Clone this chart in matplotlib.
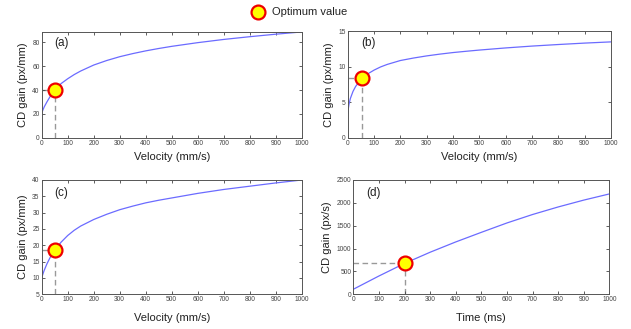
import matplotlib
matplotlib.use("Agg")
import matplotlib.pyplot as plt
from matplotlib.lines import Line2D

plt.rcParams['font.family'] = ['Liberation Sans', 'DejaVu Sans']

# ---- data ----
xa = [0, 5, 10, 20, 30, 40, 50, 75, 100, 125, 150, 200, 250, 300, 350, 400, 450, 500,
      600, 700, 800, 900, 1000]
ya = [20.5, 23.5, 26, 30, 33.7, 37, 40, 45.5, 49.5, 53, 56, 61, 64.8, 68, 70.6, 72.9,
      74.9, 76.7, 79.8, 82.5, 84.8, 86.9, 88.8]
opt_a = (50, 40)

xb = [0, 2, 5, 10, 20, 30, 40, 55, 75, 100, 125, 150, 200, 250, 300, 350, 400, 450, 500,
      600, 700, 800, 900, 1000]
yb = [3.4, 4.0, 4.7, 5.5, 6.5, 7.2, 7.7, 8.35, 8.95, 9.5, 9.95, 10.3, 10.85, 11.2, 11.5,
      11.75, 11.97, 12.15, 12.32, 12.62, 12.88, 13.1, 13.3, 13.47]
opt_b = (55, 8.35)

xc = [0, 5, 10, 20, 30, 40, 50, 75, 100, 125, 150, 200, 250, 300, 350, 400, 450, 500,
      600, 700, 800, 900, 1000]
yc = [10, 11.3, 12.4, 14.3, 15.9, 17.3, 18.5, 21.0, 23.0, 24.6, 25.9, 27.9, 29.5, 30.9,
      32.0, 33.0, 33.8, 34.5, 35.9, 37.1, 38.1, 39.1, 40.0]
opt_c = (50, 18.5)

xd = [0, 100, 200, 300, 400, 500, 600, 700, 800, 900, 1000]
yd = [110, 400, 675, 920, 1145, 1355, 1560, 1745, 1910, 2060, 2195]
opt_d = (200, 675)

panels = [
    dict(x=xa, y=ya, opt=opt_a, lab='(a)', xl='Velocity (mm/s)', yl='CD gain (px/mm)',
         ylim=(0, 89), yt=[0, 20, 40, 60, 80], ymin=0, xpad=4,
         rect=(41.7, 31.7, 301.7, 137.7)),
    dict(x=xb, y=yb, opt=opt_b, lab='(b)', xl='Velocity (mm/s)', yl='CD gain (px/mm)',
         ylim=(0, 15), yt=[0, 5, 10, 15], ymin=0, xpad=4,
         rect=(347.7, 31, 611, 137.7)),
    dict(x=xc, y=yc, opt=opt_c, lab='(c)', xl='Velocity (mm/s)', yl='CD gain (px/mm)',
         ylim=(5, 40), yt=[5, 10, 15, 20, 25, 30, 35, 40], ymin=5, xpad=7,
         rect=(41.7, 180, 301.7, 294.3)),
    dict(x=xd, y=yd, opt=opt_d, lab='(d)', xl='Time (ms)', yl='CD gain (px/s)',
         ylim=(0, 2500), yt=[0, 500, 1000, 1500, 2000, 2500], ymin=0, xpad=7,
         rect=(353.3, 180, 609.3, 294.3)),
]

W, H = 631, 329
fig = plt.figure(figsize=(W / 100, H / 100), dpi=100)

spine_col = '#555555'
for p in panels:
    l, t, r, b = p['rect']
    ax = fig.add_axes([l / W, (H - b) / H, (r - l) / W, (b - t) / H])
    ax.plot(p['x'], p['y'], color='#6b6bff', lw=0.9, zorder=2)
    ox, oy = p['opt']
    ax.plot([ox, ox], [p['ymin'], oy], ls=(0, (4, 2.5)), color='#999999', lw=1.0, zorder=1)
    ax.plot([0, ox], [oy, oy], ls=(0, (4, 2.5)), color='#999999', lw=1.0, zorder=1)
    ax.plot([ox], [oy], marker='o', ms=10, mfc='#ffff00', mec='#ee0000', mew=1.6,
            zorder=3, clip_on=False)
    ax.set_xlim(0, 1000)
    ax.set_ylim(*p['ylim'])
    ax.set_xticks(range(0, 1001, 100))
    ax.set_yticks(p['yt'])
    ax.tick_params(direction='in', top=True, right=True, length=2.5, width=0.6,
                   labelsize=4.8, colors='#444444', pad=1.5)
    for s in ax.spines.values():
        s.set_color(spine_col)
        s.set_linewidth(0.7)
    ax.set_xlabel(p['xl'], fontsize=8, color='#222222', labelpad=p['xpad'])
    ax.set_ylabel(p['yl'], fontsize=8, color='#222222', labelpad=3)
    ax.text(0.05, 0.89, p['lab'], transform=ax.transAxes, fontsize=8.5,
            color='#222222', va='center', ha='left')

# legend
fig.lines.append(Line2D([258 / W], [1 - 12 / H], marker='o', ms=10, mfc='#ffff00',
                        mec='#ee0000', mew=1.6, transform=fig.transFigure, ls='none'))
fig.text(272 / W, 1 - 12 / H, 'Optimum value', fontsize=8, color='#222222',
         va='center', ha='left')

fig.savefig('out.png', dpi=100)
